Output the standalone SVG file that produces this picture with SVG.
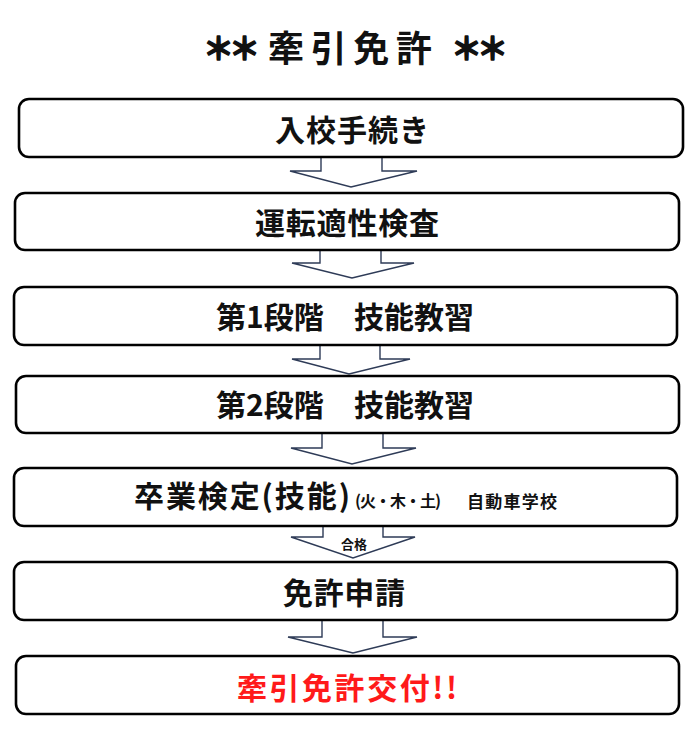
<svg xmlns="http://www.w3.org/2000/svg" width="700" height="732" viewBox="0 0 700 732">
<style>
.bg{fill:#ffffff}
.box{fill:#ffffff;stroke:#000000;stroke-width:2.6}
.arr{fill:#ffffff;stroke:#2e3b57;stroke-width:1.4;stroke-linejoin:miter}
.t{font-family:"Noto Sans CJK JP","Noto Sans CJK SC",sans-serif;font-weight:bold;fill:#111111;text-anchor:middle;dominant-baseline:central}
.big{font-size:30px}
.title{font-size:36px}
.ast{font-size:31px;letter-spacing:-5px;stroke:#111111;stroke-width:1.6;stroke-linejoin:round}
.red{fill:#ff1a1a}
.sm{font-size:16px;text-anchor:start}
.sm2{font-size:17px;text-anchor:start}
.lbl{font-size:13px}
</style>
<rect class="bg" x="0" y="0" width="700" height="732"/>
<g id="title">
<text class="t ast" x="229" y="46">＊＊</text>
<text class="t title" x="350" y="46" textLength="164" lengthAdjust="spacing">牽引免許</text>
<text class="t ast" x="477" y="46">＊＊</text>
</g>
<g id="connectors">
<polygon class="arr" points="321,150 382,150 382,171 417,171 351,187 290,171 321,171"/>
<polygon class="arr" points="320,243 381,243 381,263 414,263 352,278 292,263 320,263"/>
<polygon class="arr" points="320,338 380,338 380,359 410,359 349,374 292,359 320,359"/>
<polygon class="arr" points="322,426 383,426 383,448 416,448 352,464 291,448 322,448"/>
<polygon class="arr" points="323,519 383,519 383,537 415,537 353,558 291,537 323,537"/>
<polygon class="arr" points="322,613 383,613 383,637 417,637 353,653 288,637 322,637"/>
<text class="t lbl" x="354" y="543">合格</text>
</g>
<g id="n1">
<rect class="box" x="19" y="99" width="664" height="58" rx="10"/>
<text class="t big" x="352" y="128" textLength="154" lengthAdjust="spacing">入校手続き</text>
</g>
<g id="n2">
<rect class="box" x="15" y="193" width="664" height="57" rx="10"/>
<text class="t big" x="347" y="221" textLength="184" lengthAdjust="spacing">運転適性検査</text>
</g>
<g id="n3">
<rect class="box" x="14" y="287" width="663" height="58" rx="10"/>
<text class="t big" x="345" y="315" textLength="258" lengthAdjust="spacing">第1段階　技能教習</text>
</g>
<g id="n4">
<rect class="box" x="16" y="376" width="663" height="57" rx="10"/>
<text class="t big" x="345" y="403" textLength="258" lengthAdjust="spacing">第2段階　技能教習</text>
</g>
<g id="n5">
<rect class="box" x="14" y="468" width="663" height="58" rx="10"/>
<text class="t" style="font-size:30px;text-anchor:start" x="134" y="494" textLength="216" lengthAdjust="spacing">卒業検定(技能)</text>
<text class="t sm" x="355" y="500" textLength="86" lengthAdjust="spacing">(火・木・土)</text>
<text class="t sm2" x="467" y="500" textLength="90" lengthAdjust="spacing">自動車学校</text>
</g>
<g id="n6">
<rect class="box" x="14" y="562" width="663" height="58" rx="10"/>
<text class="t big" x="344" y="591" textLength="122" lengthAdjust="spacing">免許申請</text>
</g>
<g id="n7">
<rect class="box" x="16" y="656" width="663" height="58" rx="10"/>
<text class="t big red" x="347" y="686" textLength="220" lengthAdjust="spacing">牽引免許交付!!</text>
</g>
</svg>
